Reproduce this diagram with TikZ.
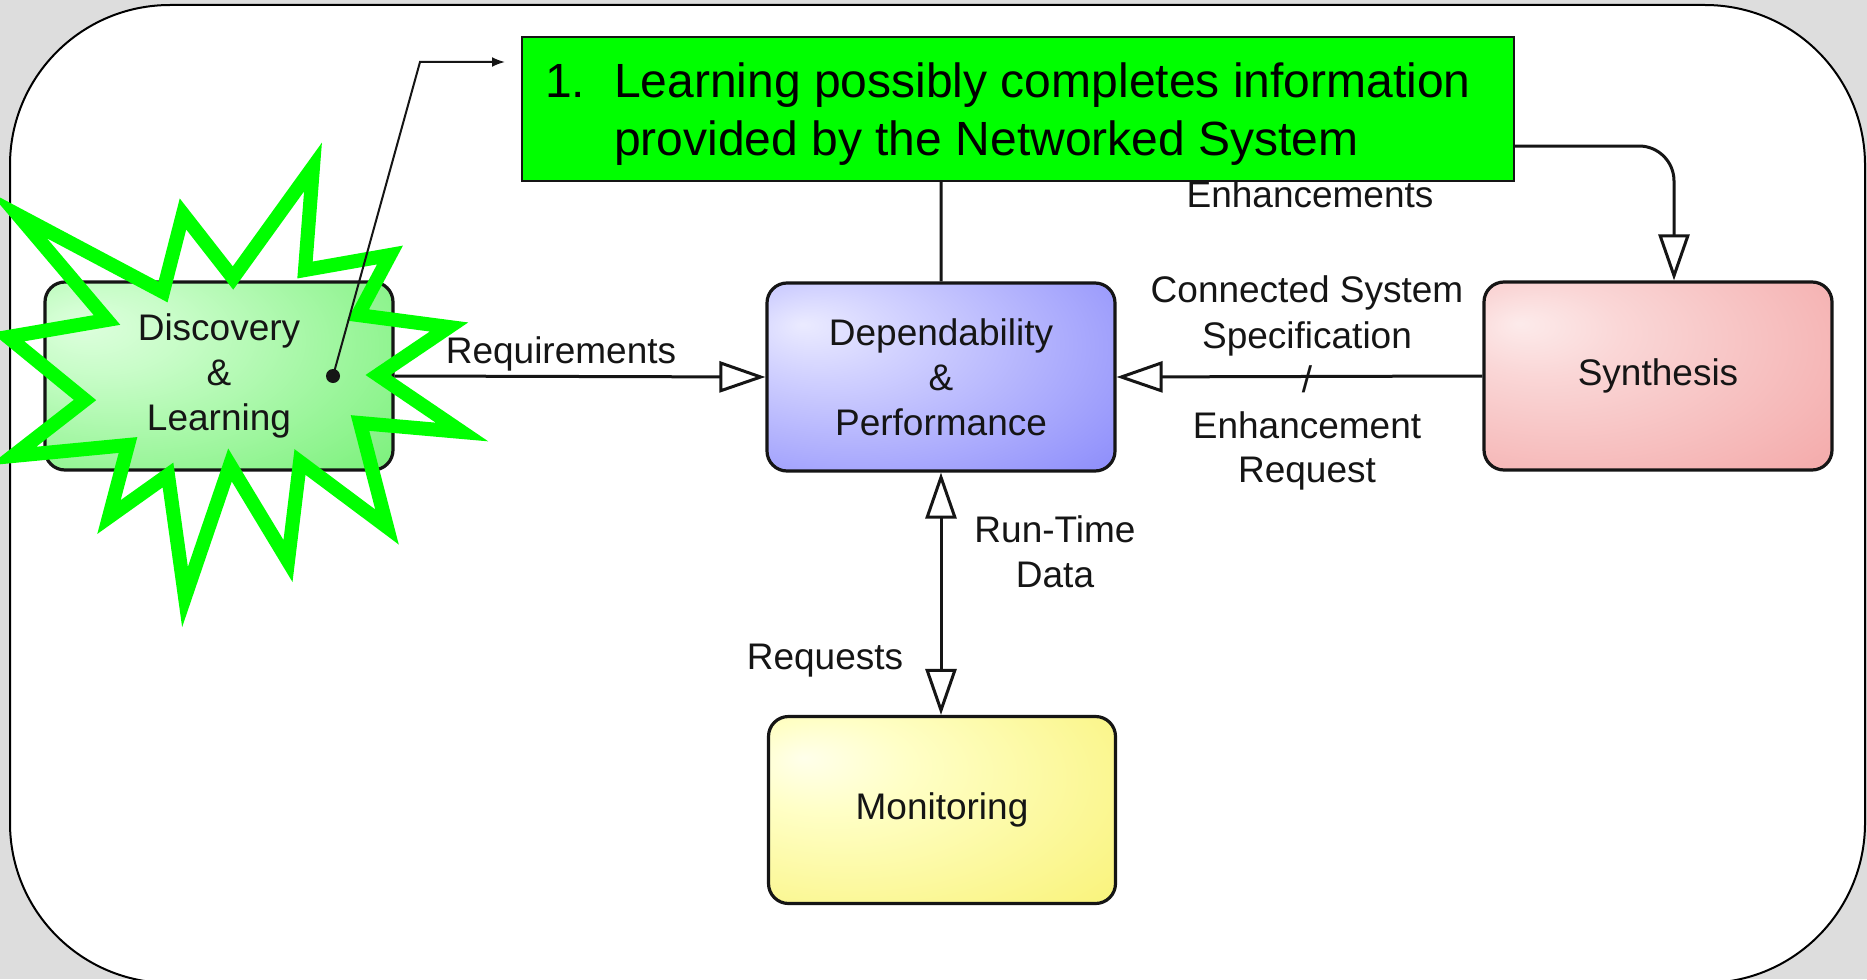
\documentclass[tikz,border=0pt]{standalone}
\usepackage{fontspec}
\setmainfont{Liberation Sans}
\usetikzlibrary{arrows.meta}
\definecolor{bggray}{HTML}{DDDDDD}
\definecolor{callgreen}{HTML}{00FF00}
\definecolor{ink}{HTML}{151515}
\pgfdeclareradialshading{discshade}{\pgfpoint{-20bp}{14bp}}{rgb(0bp)=(0.87,1,0.87); rgb(12bp)=(0.78,0.99,0.78); rgb(55bp)=(0.40,0.93,0.40); rgb(80bp)=(0.38,0.92,0.38)}
\pgfdeclareradialshading{depshade}{\pgfpoint{-20bp}{14bp}}{rgb(0bp)=(0.92,0.92,1); rgb(12bp)=(0.82,0.82,1); rgb(55bp)=(0.48,0.48,0.98); rgb(80bp)=(0.45,0.45,0.97)}
\pgfdeclareradialshading{synshade}{\pgfpoint{-20bp}{14bp}}{rgb(0bp)=(0.99,0.92,0.92); rgb(12bp)=(0.98,0.84,0.84); rgb(55bp)=(0.95,0.62,0.62); rgb(80bp)=(0.94,0.60,0.60)}
\pgfdeclareradialshading{monshade}{\pgfpoint{-20bp}{14bp}}{rgb(0bp)=(1,1,0.92); rgb(12bp)=(1,1,0.78); rgb(55bp)=(0.97,0.94,0.40); rgb(80bp)=(0.96,0.93,0.36)}
\begin{document}
\begin{tikzpicture}[x=1pt,y=-1pt,
  box/.style={draw=ink, line width=3.2pt, rounded corners=20pt, minimum width=348pt, minimum height=188pt, inner sep=0pt, align=center, text=ink, font=\fontsize{37}{45}\selectfont},
  conn/.style={draw=ink, line width=3pt},
  opentip/.style={-{Triangle[open,length=46pt,width=31pt]}},
  bothtip/.style={{Triangle[open,length=46pt,width=31pt]}-{Triangle[open,length=46pt,width=31pt]}},
  lbl/.style={text=ink, font=\fontsize{37}{45}\selectfont, inner sep=0pt, anchor=base},
  calltxt/.style={text=black, font=\fontsize{48}{57}\selectfont, inner sep=0pt, anchor=base west},
]
\fill[bggray] (0,0) rectangle (1867,979);
\useasboundingbox (0,0) rectangle (1867,979);
\begin{scope}
\clip (0,0) rectangle (1867,979);
\draw[fill=white, line width=2pt, rounded corners=160pt] (10,5) rectangle (1865,983);
\end{scope}

% boxes
\node[box, shading=discshade] (disc) at (219,376) {Discovery\\\&\\Learning};
\node[box, shading=depshade] (dep) at (941,377) {Dependability\\\&\\Performance};
\node[box, shading=synshade] (syn) at (1658,376) {Synthesis};
\node[box, shading=monshade, minimum width=347pt, minimum height=187pt] (mon) at (942,810) {Monitoring};

% connectors
\draw[conn, opentip] (disc.east) -- (dep.west);
\draw[conn, opentip] (syn.west) -- (dep.east);
\draw[conn, bothtip] (dep.south) -- (dep.south |- mon.north);
\coordinate (topy) at (0,146);
\coordinate (synin) at ([xshift=16pt]syn.north);
\draw[conn, opentip, rounded corners=35pt] (dep.north) -- (dep.north |- topy) -- (topy -| synin) -- (synin);

% labels
\node[lbl] (lreq) at (561,363) {Requirements};
\node[lbl] (lenh) at (1310,207) {Enhancements};
\node[lbl] (lcs1) at (1307,302) {Connected System};
\node[lbl] (lcs2) at (1307,348) {Specification};
\node[lbl] (lslash) at (1307,392) {/};
\node[lbl] (ler1) at (1307,438) {Enhancement};
\node[lbl] (ler2) at (1307,482) {Request};
\node[lbl] (lrt1) at (1055,542) {Run-Time};
\node[lbl] (lrt2) at (1055,587) {Data};
\node[lbl] (lrq) at (825,669) {Requests};

% callout box
\node[draw=ink, fill=callgreen, line width=2pt, minimum width=992pt, minimum height=144pt, inner sep=0pt] (call) at (1018,109) {};
\node[calltxt] (cnum) at (545,98) {1.};
\node[calltxt] (cl1) at (614,98) {Learning possibly completes information};
\node[calltxt] (cl2) at (614,155) {provided by the Networked System};

% starburst
\draw[callgreen, line width=14pt, line join=miter] (18,215) -- (163,292) -- (183,214) -- (233,278) -- (313,167) -- (305,270) -- (390,255) -- (358,315) -- (449,327) -- (378,375) -- (462,432) -- (360,423) -- (387,527) -- (300,462) -- (288,561) -- (230,465) -- (185,597) -- (168,475) -- (109,517) -- (128,445) -- (13,456) -- (85,400) -- (8,337) -- (107,320) -- cycle;

% pointer
\coordinate (dot) at (333,376);
\coordinate (bend) at (420,62);
\coordinate (ptrend) at (505,62);
\fill[ink] (dot) circle (7pt);
\draw[ink, line width=2pt, -{Latex[length=13pt,width=10pt]}] (dot) -- (bend) -- (ptrend);
\end{tikzpicture}
\end{document}
